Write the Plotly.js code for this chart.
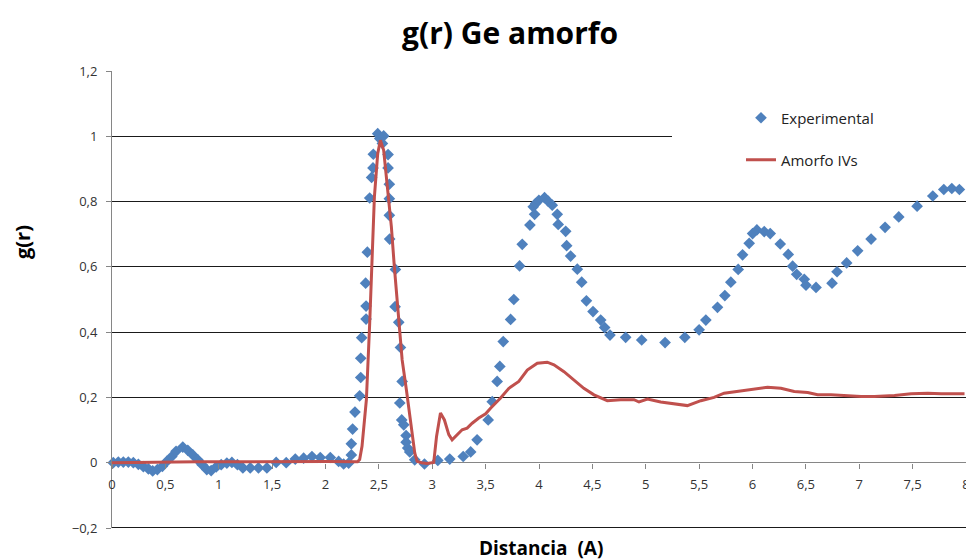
<!DOCTYPE html>
<html><head><meta charset="utf-8">
<script src="https://cdn.plot.ly/plotly-3.0.1.min.js"></script>
<style>html,body{margin:0;padding:0;background:#fff}#chart{width:966px;height:560px}</style>
</head><body><div id="chart"></div>
<script>
// Experimental g(r) (blue diamonds)
const expX = [0.012,0.059,0.106,0.153,0.2,0.247,0.294,0.341,0.381,0.425,0.472,0.513,0.56,0.6,0.663,0.71,0.757,0.804,0.844,0.888,0.929,0.976,1.023,1.076,1.123,1.175,1.226,1.295,1.372,1.451,1.538,1.632,1.717,1.795,1.873,1.951,2.045,2.123,2.17,2.217,
2.242,2.242,2.254,2.276,2.32,2.33,2.33,2.339,2.376,2.38,2.38,2.392,2.414,2.432,2.445,2.448,2.489,2.508,2.533,2.545,2.586,2.586,2.598,2.598,2.598,2.601,2.652,2.655,2.686,2.696,2.702,2.714,2.718,2.733,2.755,2.755,2.77,2.789,2.836,2.927,3.052,3.164,3.29,3.36,3.42,3.524,3.562,3.608,3.633,3.665,3.734,3.764,3.818,3.843,3.915,3.946,3.959,3.968,3.999,4.052,4.083,4.124,4.171,4.18,4.25,4.259,4.296,4.359,4.4,4.444,4.506,4.578,4.615,4.665,4.812,4.962,5.181,5.366,5.5,5.563,5.672,5.741,5.797,5.866,5.907,5.969,6.001,6.041,6.11,6.166,6.26,6.335,6.376,6.414,6.485,6.501,6.595,6.745,6.792,6.882,6.985,7.111,7.242,7.37,7.542,7.689,7.792,7.867,7.938];
const expY = [0,0.002,0.002,0.002,0,-0.005,-0.012,-0.019,-0.025,-0.021,-0.011,0.004,0.019,0.035,0.048,0.038,0.024,0.009,-0.006,-0.021,-0.024,-0.013,-0.006,-0.001,0.001,-0.006,-0.016,-0.016,-0.016,-0.016,0.001,0,0.011,0.014,0.019,0.016,0.016,0.004,-0.004,-0.001,
0.024,0.058,0.103,0.155,0.205,0.261,0.32,0.383,0.55,0.44,0.48,0.645,0.811,0.874,0.903,0.945,1.008,0.993,0.978,1.001,0.944,0.903,0.853,0.809,0.758,0.685,0.478,0.592,0.43,0.183,0.353,0.131,0.249,0.116,0.083,0.063,0.045,0.033,0.009,-0.004,0.007,0.011,0.019,0.033,0.07,0.131,0.187,0.249,0.295,0.371,0.439,0.5,0.603,0.669,0.728,0.784,0.761,0.794,0.804,0.812,0.802,0.789,0.761,0.73,0.709,0.665,0.633,0.593,0.553,0.496,0.463,0.437,0.414,0.391,0.384,0.376,0.368,0.384,0.407,0.437,0.476,0.512,0.553,0.592,0.637,0.672,0.702,0.713,0.708,0.702,0.67,0.638,0.602,0.577,0.562,0.544,0.537,0.55,0.585,0.612,0.649,0.685,0.721,0.753,0.786,0.817,0.837,0.84,0.837];

// Amorfo IVs simulation (red line)
const simX = [0,0.4,0.8,1.2,1.6,2.0,2.3,2.32,2.342,2.383,2.414,2.435,2.458,2.489,2.514,2.545,2.586,2.617,2.645,2.686,2.718,2.758,2.795,2.836,2.858,2.9,2.95,3.014,3.04,3.077,3.114,3.155,3.186,3.233,3.28,3.327,3.374,3.436,3.5,3.546,3.64,3.718,3.811,3.89,3.984,4.077,4.14,4.234,4.328,4.42,4.515,4.64,4.765,4.89,4.937,5.016,5.14,5.265,5.39,5.516,5.64,5.734,5.86,6.016,6.141,6.266,6.391,6.517,6.61,6.735,6.86,7.017,7.142,7.33,7.486,7.642,7.767,7.986];
const simY = [0,0.002,0.003,0.003,0.004,0.004,0.003,0.01,0.05,0.193,0.427,0.641,0.814,0.947,0.988,0.957,0.835,0.723,0.6,0.447,0.315,0.223,0.131,0.03,0.004,0,-0.002,0.001,0.08,0.152,0.131,0.086,0.07,0.086,0.101,0.106,0.121,0.137,0.15,0.167,0.198,0.228,0.249,0.284,0.305,0.308,0.3,0.279,0.254,0.228,0.208,0.19,0.193,0.193,0.186,0.195,0.186,0.18,0.175,0.19,0.2,0.213,0.218,0.226,0.231,0.228,0.218,0.215,0.208,0.208,0.205,0.203,0.203,0.206,0.211,0.213,0.211,0.211];

const seriesNames = ['Experimental','Amorfo IVs'];
const titleText = 'g(r) Ge amorfo';
const xTitle = 'Distancia  (A)';
const yTitle = 'g(r)';

const FONT = '"Open Sans", Lato, sans-serif';
const Y0 = -0.2, Y1 = 1.2;

const traces = [
  {x: expX, y: expY, type:'scatter', mode:'markers', name: seriesNames[0],
   marker:{symbol:'diamond', size:9, color:'#4F81BD'}, legend:'legend', cliponaxis:false},
  {x: simX, y: simY, type:'scatter', mode:'lines', name: seriesNames[1],
   line:{color:'#C0504D', width:3}, legend:'legend2'}
];

const layout = {
  width:966, height:560,
  margin:{l:112, r:0, t:71, b:32},
  paper_bgcolor:'#fff', plot_bgcolor:'#fff',
  separators:',.',
  font:{family:FONT, size:13, color:'#333'},
  title:{text:titleText, x:0.528, xanchor:'center', y:1-33/560, yanchor:'middle', yref:'container',
         font:{family:FONT, size:30, color:'#000', weight:'bold'}},
  xaxis:{range:[0,8], dtick:0.5, tick0:0, anchor:'free', position:(0-Y0)/(Y1-Y0),
         showgrid:false, zeroline:false, showline:false,
         ticks:'outside', ticklen:5, tickcolor:'#868686', ticklabeloverflow:'allow', ticklabelstandoff:5,
         tickfont:{family:FONT, size:13, color:'#333'}},
  yaxis:{range:[Y0,Y1], dtick:0.2, tick0:0, showgrid:true, gridcolor:'#1a1a1a', gridwidth:1,
         zeroline:true, zerolinecolor:'#868686', zerolinewidth:1,
         showline:true, linecolor:'#868686', ticks:'outside', ticklen:5, tickcolor:'#868686',
         ticklabelstandoff:6, tickfont:{family:FONT, size:13, color:'#333'}},
  showlegend:true,
  legend:{x:(741-112)/854, xanchor:'left', y:(528-118)/457, yanchor:'middle', bgcolor:'rgba(0,0,0,0)',
          font:{family:FONT, size:15, color:'#222'}},
  legend2:{x:(741-112)/854, xanchor:'left', y:(528-160)/457, yanchor:'middle', bgcolor:'rgba(0,0,0,0)',
          font:{family:FONT, size:15, color:'#222'}},
  shapes:[
    {type:'rect', xref:'paper', yref:'paper', x0:(672-112)/854, x1:1, y0:(528-175)/457, y1:(528-100)/457,
     fillcolor:'#fff', line:{width:0}, layer:'above'},
    {type:'line', xref:'paper', yref:'y', x0:0, x1:1, y0:-0.1985, y1:-0.1985, line:{color:'#1a1a1a', width:1.2}, layer:'above'}
  ],
  annotations:[
    {text:xTitle, xref:'paper', yref:'paper', x:(541-112)/854, y:(528-548)/457, xanchor:'center', yanchor:'middle',
     showarrow:false, font:{family:FONT, size:19, color:'#000', weight:'bold'}},
    {text:yTitle, xref:'paper', yref:'paper', x:(22-112)/854, y:(528-242)/457, xanchor:'center', yanchor:'middle',
     textangle:-90, showarrow:false, font:{family:FONT, size:20, color:'#000', weight:'bold'}}
  ]
};

Plotly.newPlot('chart', traces, layout, {displayModeBar:false, staticPlot:true});
</script>
</body></html>
